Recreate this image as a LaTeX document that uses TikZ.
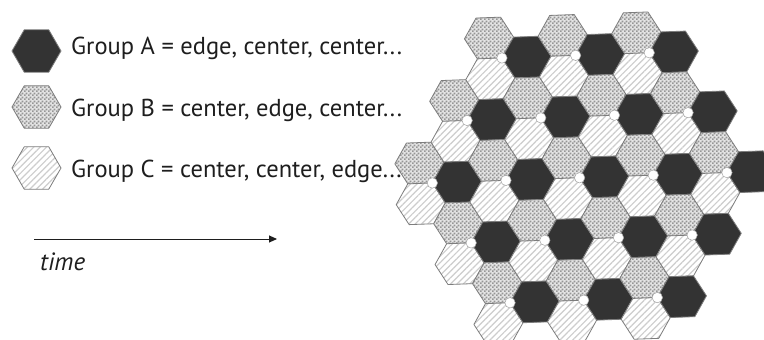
\documentclass[tikz,border=0pt]{standalone}
\usepackage{fontspec}
\setmainfont{PT Sans}
\usepackage{tikz}
\usetikzlibrary{shapes.geometric, arrows.meta, positioning, patterns, patterns.meta}
\definecolor{darkHex}{RGB}{51,51,51}
\definecolor{edgeGray}{RGB}{125,125,125}
\definecolor{checkDark}{RGB}{150,150,150}
\definecolor{checkLight}{RGB}{228,228,228}
\definecolor{hatchGray}{RGB}{205,205,205}
\definecolor{textGray}{RGB}{30,30,30}

\tikzdeclarepattern{
  name=fineChecker, type=uncolored,
  bounding box={(0pt,0pt) and (4pt,4pt)},
  tile size={(4pt,4pt)},
  code={\fill (0pt,0pt) rectangle (2pt,2pt);
        \fill (2pt,2pt) rectangle (4pt,4pt);}
}

\begin{document}
\begin{tikzpicture}[
  x=1pt, y=-1pt,
  hexbase/.style={draw=edgeGray, line width=0.8pt, line join=round},
  hexA/.style={hexbase, fill=darkHex},
  hexB/.style={hexbase, preaction={fill=checkLight}, pattern=fineChecker, pattern color=checkDark},
  hexC/.style={hexbase, preaction={fill=white},
               pattern={Lines[angle=45, distance=4.5pt, line width=1.2pt]}, pattern color=hatchGray},
  legendhex/.style={regular polygon, regular polygon sides=6, minimum size=49pt, inner sep=0pt},
  legendtext/.style={anchor=base west, inner sep=0pt, text=textGray,
                     font=\fontsize{24.5}{28}\selectfont},
  vertexdot/.style={fill=white, draw=edgeGray!70, line width=0.5pt},
  timearrow/.style={-{Triangle[length=8pt, width=7pt]}, line width=0.9pt, draw=textGray}
]
\fill[white] (0,0) rectangle (764,340);
\useasboundingbox (0,0) rectangle (764,340);
\clip (0,0) rectangle (764,340);

% Legend
\node[legendhex, hexA] (hexA) at (36.5,51) {};
\node[legendhex, hexB] (hexB) at (36.5,107) {};
\node[legendhex, hexC] (hexC) at (36.5,168) {};
\node[legendtext] (txtA) at (71,54)  {Group A = edge, center, center...};
\node[legendtext] (txtB) at (71,116) {Group B = center, edge, center...};
\node[legendtext] (txtC) at (71,177) {Group C = center, center, edge...};

% Time axis
\coordinate (tstart) at (34,239);
\coordinate (tend) at (277,239);
\draw[timearrow] (tstart) -- (tend);
\node[font=\fontsize{25}{28}\selectfont\itshape, text=textGray, inner sep=0pt,
      below right=14pt and 6pt of tstart] (tlabel) {time};

% Hex grid (column i, rows jlo..jhi)
\begin{scope}[shift={(489,38)}, x={(37.5pt,-19.1pt)}, y={(1.35pt,-40.8pt)}]
  \foreach \i/\jlo/\jhi in {-2/4/5, -1/2/6, 0/0/7, 1/0/6, 2/-1/6, 3/-1/5, 4/-2/5, 5/-2/4, 6/-1/2, 7/0/0} {
    \foreach \j in {\jlo,...,\jhi} {
      \pgfmathtruncatemacro{\grp}{mod(\i+2*\j+30,3)}
      \ifcase\grp \def\hexstyle{hexB}\or \def\hexstyle{hexA}\or \def\hexstyle{hexC}\fi
      \path[\hexstyle, shift={(\i,\j)}]
        (1/3,1/3) -- (-1/3,2/3) -- (-2/3,1/3) -- (-1/3,-1/3) -- (1/3,-2/3) -- (2/3,-1/3) -- cycle;
    }
  }
\end{scope}

% shared corner of B, A and C
\foreach \i/\j in {0/0, 2/-1, 4/-2, -1/2, 1/1, 3/0, 5/-1, -2/4, 0/3, 2/2, 4/1, 6/0,
                   -1/5, 1/4, 3/3, 5/2, 0/6, 2/5, 4/4}
  \filldraw[vertexdot] (489+37.5*\i+1.35*\j+12.95, 38+19.1*\i+40.8*\j+19.97) circle[radius=5.2];

\end{tikzpicture}
\end{document}
